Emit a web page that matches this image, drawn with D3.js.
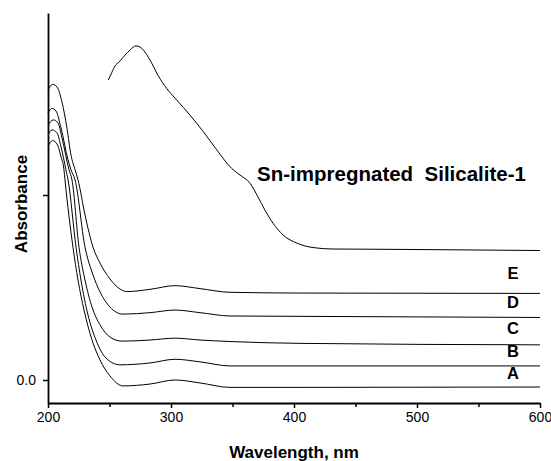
<!DOCTYPE html>
<html>
<head>
<meta charset="utf-8">
<script src="https://cdn.jsdelivr.net/npm/d3@7"></script>
<style>
  body { margin: 0; background: #fff; }
  text { font-family: Arial, "Liberation Sans", sans-serif; }
</style>
</head>
<body>
<div id="my_dataviz"></div>
<script>
// spectra: [wavelength nm, absorbance]
const curveA = [[200,0.632],[203.8,0.647],[207.3,0.638],[210.6,0.603],[213.0,0.568],[213.8,0.541],[220.3,0.359],[224.4,0.270],[229.3,0.189],[235.8,0.108],[242.3,0.054],[250.4,0.011],[261.0,-0.016],[282.9,-0.011],[303.3,0.000],[323.6,-0.008],[348.0,-0.020],[404.9,-0.020],[600,-0.019]];
const curveB = [[200,0.662],[203.3,0.676],[207.3,0.668],[210.6,0.630],[214.6,0.568],[216.3,0.541],[222.8,0.359],[226.8,0.270],[232.5,0.176],[239.0,0.108],[247.2,0.059],[258.5,0.041],[282.9,0.046],[303.3,0.056],[323.6,0.049],[348.0,0.038],[404.9,0.038],[600,0.038]];
const curveC = [[200,0.689],[204.3,0.703],[208.1,0.695],[211.4,0.654],[217.1,0.568],[219.5,0.541],[225.2,0.359],[230.1,0.270],[235.8,0.197],[242.3,0.149],[250.4,0.116],[260.2,0.105],[282.9,0.108],[303.3,0.113],[323.6,0.108],[348.0,0.104],[404.9,0.099],[600,0.095]];
const curveD = [[200,0.722],[203.0,0.734],[206.5,0.727],[210.6,0.681],[216.3,0.595],[218.7,0.568],[222.0,0.541],[230.1,0.359],[236.6,0.284],[242.3,0.238],[250.4,0.197],[261.0,0.178],[282.9,0.182],[303.3,0.189],[323.6,0.182],[348.0,0.173],[404.9,0.172],[600,0.169]];
const curveE = [[200,0.784],[203.8,0.799],[207.3,0.792],[211.4,0.751],[215.4,0.681],[218.7,0.608],[222.0,0.568],[224.4,0.541],[230.1,0.446],[236.6,0.359],[242.3,0.316],[250.4,0.273],[258.5,0.246],[264.2,0.239],[282.9,0.245],[303.3,0.255],[323.6,0.247],[348.0,0.237],[404.9,0.235],[600,0.234]];
const curveSn = [[249.0,0.811],[252.0,0.832],[254.5,0.849],[256.9,0.857],[259.3,0.865],[262.6,0.878],[266.7,0.892],[271.5,0.903],[274.8,0.900],[277.5,0.892],[282.9,0.865],[289.7,0.822],[296.5,0.788],[304.6,0.757],[315.4,0.716],[326.3,0.671],[337.2,0.622],[349.3,0.572],[356.1,0.554],[364.2,0.532],[370.7,0.495],[376.4,0.459],[382.9,0.424],[391.1,0.392],[402.4,0.370],[415.4,0.358],[431.7,0.354],[486.2,0.353],[600,0.350]];

const curveLabels = ["A", "B", "C", "D", "E"];
const xMajorTicks = [200, 300, 400, 500, 600];
const xMinorTicks = [250, 350, 450, 550];
const yTicks = [0, 0.5];
const yTickLabels = ["0.0", ""];

const width = 551, height = 461;
const margin = { top: 13, right: 11, bottom: 58, left: 48 };

const svg = d3.select("#my_dataviz").append("svg")
  .attr("width", width)
  .attr("height", height);

const xScale = d3.scaleLinear().domain([200, 600]).range([margin.left, width - margin.right]);
const yScale = d3.scaleLinear().domain([-0.0622, 0.992]).range([height - margin.bottom, margin.top]);

const line = d3.line()
  .x(d => xScale(d[0]))
  .y(d => yScale(d[1]))
  .curve(d3.curveMonotoneX);

const lower = [curveA, curveB, curveC, curveD, curveE];
lower.concat([curveSn]).forEach(c => {
  svg.append("path")
    .datum(c)
    .attr("fill", "none")
    .attr("stroke", "#000")
    .attr("stroke-width", 1)
    .attr("d", line);
});

// axes
const xAxisY = height - margin.bottom;
svg.append("g")
  .attr("transform", `translate(0,${xAxisY})`)
  .call(d3.axisBottom(xScale).tickValues(xMinorTicks).tickSize(4).tickSizeOuter(0).tickFormat(""))
  .call(g => g.select(".domain").remove());
svg.append("g")
  .attr("transform", `translate(0,${xAxisY})`)
  .call(d3.axisBottom(xScale).tickValues(xMajorTicks).tickSize(5).tickSizeOuter(0).tickPadding(4));

svg.append("g")
  .attr("transform", `translate(${margin.left},0)`)
  .call(d3.axisLeft(yScale).tickValues(yTicks).tickSize(5).tickSizeOuter(0).tickPadding(7)
    .tickFormat((d, i) => yTickLabels[i]));

svg.selectAll(".domain").attr("stroke-width", 1.8);
svg.selectAll(".tick line").attr("stroke-width", 1.5);
svg.selectAll(".tick text").attr("font-size", 14).attr("font-family", "Arial, 'Liberation Sans', sans-serif").attr("fill", "#000");

// axis titles
svg.append("text")
  .attr("x", (margin.left + width - margin.right) / 2)
  .attr("y", 458)
  .attr("text-anchor", "middle")
  .attr("font-size", 17)
  .attr("font-weight", "bold")
  .text("Wavelength, nm");

svg.append("text")
  .attr("transform", "translate(27,204) rotate(-90)")
  .attr("text-anchor", "middle")
  .attr("font-size", 17)
  .attr("font-weight", "bold")
  .text("Absorbance");

// curve labels
const labelOffsets = [8, 9, 11, 9, 14];
lower.forEach((c, i) => {
  svg.append("text")
    .attr("x", xScale(578))
    .attr("y", yScale(c[c.length - 1][1]) - labelOffsets[i])
    .attr("text-anchor", "middle")
    .attr("font-size", 16.5)
    .attr("font-weight", "bold")
    .text(curveLabels[i]);
});

svg.append("text")
  .attr("x", xScale(370))
  .attr("y", 181)
  .attr("font-size", 20.5)
  .attr("font-weight", "bold")
  .text("Sn-impregnated  Silicalite-1")
  .style("white-space", "pre");
</script>
</body>
</html>
